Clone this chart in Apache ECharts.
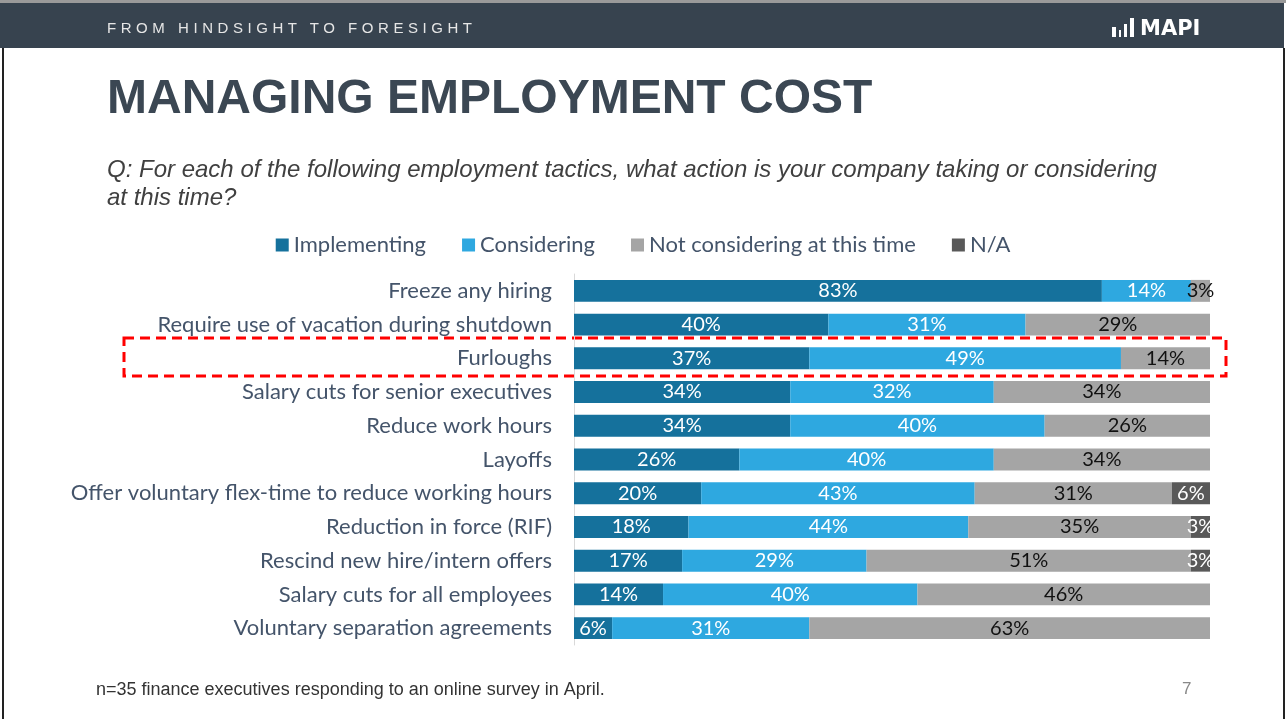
<!DOCTYPE html>
<html>
<head>
<meta charset="utf-8">
<script src="https://cdn.jsdelivr.net/npm/echarts@6/dist/echarts.min.js"></script>
<style>
  html, body { margin: 0; padding: 0; background: #fff; }
  #chart { width: 1286px; height: 719px; }
  #kicker {
    position: absolute; left: 107px; top: 19px;
    font: 15px "Liberation Sans", Arial, sans-serif;
    letter-spacing: 4.55px; color: #e6e6e6;
  }
</style>
</head>
<body>
<div id="chart"></div>
<div id="kicker">FROM HINDSIGHT TO FORESIGHT</div>
<script>
// survey tactics, top to bottom
var tactics = [
    'Freeze any hiring',
    'Require use of vacation during shutdown',
    'Furloughs',
    'Salary cuts for senior executives',
    'Reduce work hours',
    'Layoffs',
    'Offer voluntary flex-time to reduce working hours',
    'Reduction in force (RIF)',
    'Rescind new hire/intern offers',
    'Salary cuts for all employees',
    'Voluntary separation agreements'
];
var implementing   = [83, 40, 37, 34, 34, 26, 20, 18, 17, 14, 6];
var considering    = [14, 31, 49, 32, 40, 40, 43, 44, 29, 40, 31];
var notConsidering = [3, 29, 14, 34, 26, 34, 31, 35, 51, 46, 63];
var notApplicable  = [null, null, null, null, null, null, 6, 3, 3, null, null];

var font = 'Lato, "Open Sans", sans-serif';
var txt = '#44546a';

var myChart = echarts.init(document.getElementById('chart'));

function barSeries(name, data, color, labelColor) {
    return {
        name: name,
        type: 'bar',
        stack: 'all',
        data: data,
        barCategoryGap: '35%',
        itemStyle: { color: color },
        label: {
            show: true,
            position: 'inside',
            formatter: function (p) { return p.value ? p.value + '%' : ''; },
            color: labelColor,
            fontFamily: font,
            fontSize: 20
        },
        emphasis: { disabled: true }
    };
}

var option = {
    backgroundColor: '#fff',
    animation: false,
    legend: {
        top: 229,
        left: 'center',
        itemWidth: 13,
        itemHeight: 13,
        itemGap: 36,
        icon: 'rect',
        textStyle: { color: txt, fontFamily: font, fontSize: 22 }
    },
    grid: { left: 574, right: 76, top: 274, bottom: 74 },
    xAxis: {
        type: 'value',
        min: 0,
        max: 100,
        show: false
    },
    yAxis: {
        type: 'category',
        inverse: true,
        data: tactics,
        axisLine: { show: true, lineStyle: { color: '#d9d9d9', width: 1 } },
        axisTick: { show: false },
        axisLabel: { color: txt, fontFamily: font, fontSize: 22, margin: 22 }
    },
    series: [
        barSeries('Implementing', implementing, '#15719c', '#fff'),
        barSeries('Considering', considering, '#2ea8e0', '#fff'),
        barSeries('Not considering at this time', notConsidering, '#a5a5a5', '#111'),
        barSeries('N/A', notApplicable, '#595959', '#fff')
    ],
    graphic: [
        // header strip
        { type: 'rect', shape: { x: 0, y: 0, width: 1286, height: 3 }, style: { fill: '#9a9a9a' } },
        { type: 'rect', shape: { x: 0, y: 3, width: 1284, height: 45 }, style: { fill: '#37434f' } },
        // slide borders
        { type: 'rect', shape: { x: 2, y: 48, width: 2, height: 671 }, style: { fill: '#222' } },
        { type: 'rect', shape: { x: 1283, y: 48, width: 2, height: 671 }, style: { fill: '#222' } },
        // logo
        { type: 'rect', shape: { x: 1112, y: 27, width: 4, height: 10 }, style: { fill: '#fff' } },
        { type: 'rect', shape: { x: 1119, y: 30, width: 2, height: 7 }, style: { fill: '#fff' } },
        { type: 'rect', shape: { x: 1124, y: 24, width: 3, height: 13 }, style: { fill: '#fff' } },
        { type: 'rect', shape: { x: 1130, y: 18, width: 4, height: 19 }, style: { fill: '#fff' } },
        { type: 'text', x: 1140, y: 19, style: { text: 'MAPI', fill: '#fff', font: 'bold 21px "DejaVu Sans", sans-serif' } },
        // title and question
        { type: 'text', x: 107, y: 76, style: { text: 'MANAGING EMPLOYMENT COST', fill: '#3b4753', font: 'bold 48px "Liberation Sans", Arial, sans-serif' } },
        { type: 'text', x: 107, y: 156, style: { text: 'Q: For each of the following employment tactics, what action is your company taking or considering\nat this time?', fill: '#404040', font: 'italic 24px "Liberation Sans", Arial, sans-serif', lineHeight: 28 } },
        // highlight box round Furloughs
        { type: 'rect', shape: { x: 124, y: 338, width: 1102, height: 38 }, style: { fill: 'none', stroke: '#ff0000', lineWidth: 3, lineDash: [10, 6] } },
        // footer
        { type: 'text', x: 96, y: 681, style: { text: 'n=35 finance executives responding to an online survey in April.', fill: '#333', font: '18px "Liberation Sans", sans-serif' } },
        { type: 'text', x: 1182, y: 681, style: { text: '7', fill: '#888', font: '17px "Liberation Sans", sans-serif' } }
    ]
};

myChart.setOption(option);
</script>
</body>
</html>
